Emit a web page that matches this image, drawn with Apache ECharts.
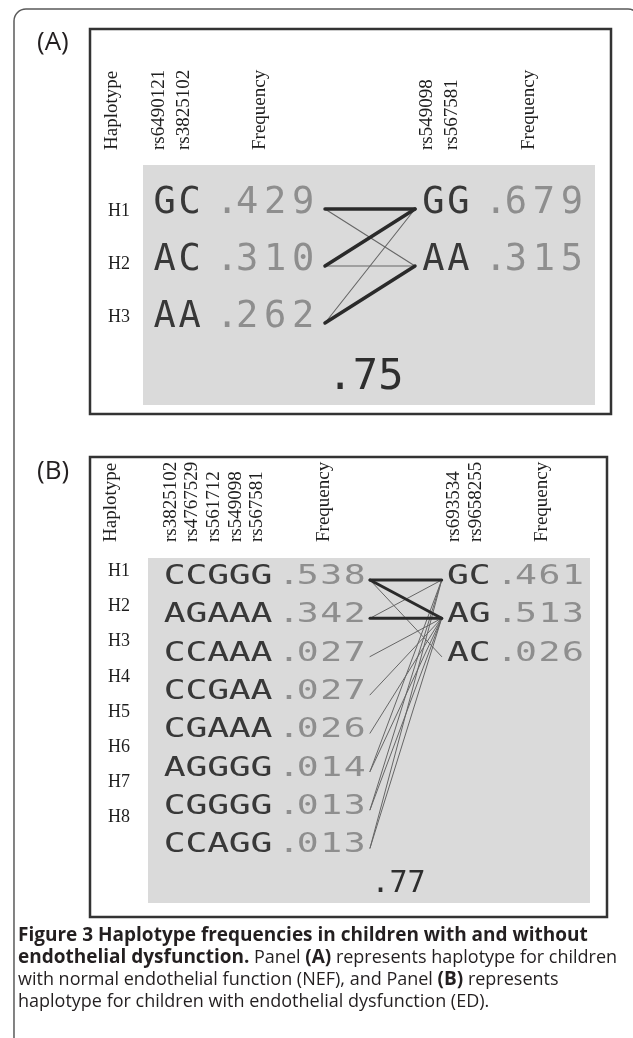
<!DOCTYPE html>
<html><head><meta charset="utf-8">
<script src="https://cdn.jsdelivr.net/npm/echarts@6.0.0/dist/echarts.min.js"></script>
<style>html,body{margin:0;padding:0;background:#fff}#c{width:633px;height:1038px}</style>
</head><body><div id="c"></div>
<script>
// ---------------- DATA ----------------
// Panel A (NEF)
const A_ids = ['H1', 'H2', 'H3'];
const A_leftMarkers = ['rs6490121', 'rs3825102'];
const A_leftHaps = ['GC', 'AC', 'AA'];
const A_leftFreqs = [0.429, 0.310, 0.262];
const A_rightMarkers = ['rs549098', 'rs567581'];
const A_rightHaps = ['GG', 'AA'];
const A_rightFreqs = [0.679, 0.315];
// [left haplotype index, right haplotype index, strong(1)/weak(0)]
const A_links = [[0, 0, 1], [0, 1, 0], [1, 0, 1], [1, 1, 0], [2, 1, 1], [2, 0, 0]];
const A_dprime = 0.75;

// Panel B (ED)
const B_ids = ['H1', 'H2', 'H3', 'H4', 'H5', 'H6', 'H7', 'H8'];
const B_leftMarkers = ['rs3825102', 'rs4767529', 'rs561712', 'rs549098', 'rs567581'];
const B_leftHaps = ['CCGGG', 'AGAAA', 'CCAAA', 'CCGAA', 'CGAAA', 'AGGGG', 'CGGGG', 'CCAGG'];
const B_leftFreqs = [0.538, 0.342, 0.027, 0.027, 0.026, 0.014, 0.013, 0.013];
const B_rightMarkers = ['rs693534', 'rs9658255'];
const B_rightHaps = ['GC', 'AG', 'AC'];
const B_rightFreqs = [0.461, 0.513, 0.026];
const B_links = [[0, 0, 1], [0, 1, 1], [0, 2, 0], [1, 1, 1], [1, 0, 0], [2, 1, 0], [3, 1, 0], [4, 1, 0],
                 [5, 1, 0], [5, 0, 0], [6, 1, 0], [6, 0, 0], [7, 1, 0], [7, 0, 0]];
const B_dprime = 0.77;

const headerTitles = { hap: 'Haplotype', freq: 'Frequency' };
const panelLabels = ['(A)', '(B)'];
const captionLines = [
  [['b', 'Figure 3 Haplotype frequencies in children with and without']],
  [['b', 'endothelial dysfunction.'], ['r', ' Panel '], ['b', '(A)'], ['r', ' represents haplotype for children']],
  [['r', 'with normal endothelial function (NEF), and Panel '], ['b', '(B)'], ['r', ' represents']],
  [['r', 'haplotype for children with endothelial dysfunction (ED).']]
];

// ---------------- LAYOUT / STYLE ----------------
const MONO = '"DejaVu Sans Mono", monospace';
const SERIF = '"Liberation Serif", "Times New Roman", serif';
const SANS = '"Open Sans", "Noto Sans", sans-serif';
const GRAY = '#dadada';
const INK = '#1e1e1e';
const HAPC = '#383838';
const FREQC = '#8e8e8e';

const LA = {
  gray: [143, 165, 452, 240], rowY0: 203, rowStep: 57, linkDy: 6,
  font: 37, scaleX: 1.0, hapStep: 25, gapDot: 37.5, dotDigit: 20, digitStep: 28,
  leftHapX: 164.7, rightHapX: 433.5, linkL: 325, linkR: 415, thick: 3.5, thin: 1.1,
  dX: 365.5, dY: 378, dFont: 42, dScaleX: 1,
  hdrBottom: 150, hdrHapX: 112, markerOff: -6, freqHdrOff: -15,
  hLabelRight: 130, hLabelY0: 211, hLabelStep: 53,
  box: [90, 29, 521, 385], labelX: 37, labelY: 43
};
const LB = {
  gray: [148, 558, 442, 345], rowY0: 577, rowStep: 38.3, linkDy: 3,
  font: 27, scaleX: 1.35, hapStep: 21.7, gapDot: 27.5, dotDigit: 18.7, digitStep: 23.5,
  leftHapX: 174.7, rightHapX: 458, linkL: 370, linkR: 441.7, thick: 3, thin: 1,
  dX: 398.5, dY: 884, dFont: 30, dScaleX: 1,
  hdrBottom: 542, hdrHapX: 111, markerOff: -4, freqHdrOff: -7,
  hLabelRight: 130, hLabelY0: 571.5, hLabelStep: 35.1,
  box: [90, 457, 517, 460], labelX: 37, labelY: 472
};

// ---------------- BUILD ----------------
function fmtFreq(v) { return '.' + String(Math.round(v * 1000)).padStart(3, '0'); }
function fmtD(v) { return '.' + String(Math.round(v * 100)).padStart(2, '0'); }

const grids = [], xAxes = [], yAxes = [], series = [];

function charEl(ch, p, size, sx, fill) {
  return { type: 'text', x: p[0], y: p[1], scaleX: sx,
    style: { text: ch, fontFamily: MONO, fontSize: size, fill: fill, align: 'center', verticalAlign: 'middle' } };
}

function buildPanel(D, L) {
  const g = grids.length;
  const [gx, gy, gw, gh] = L.gray;
  const toRow = y => (y - L.rowY0) / L.rowStep;
  grids.push({ left: gx, top: gy, width: gw, height: gh, show: true, backgroundColor: GRAY, borderWidth: 0 });
  xAxes.push({ gridIndex: g, type: 'value', min: gx, max: gx + gw, show: false });
  yAxes.push({ gridIndex: g, type: 'value', min: toRow(gy), max: toRow(gy + gh), inverse: true, show: false });

  const h = grids.length;
  grids.push({ left: L.hLabelRight, top: L.hLabelY0 - L.hLabelStep / 2, width: 10, height: L.hLabelStep * D.ids.length });
  xAxes.push({ gridIndex: h, type: 'value', min: 0, max: 1, show: false });
  yAxes.push({ gridIndex: h, type: 'category', data: D.ids, inverse: true,
    axisLine: { show: false }, axisTick: { show: false }, splitLine: { show: false },
    axisLabel: { margin: 0, fontFamily: SERIF, fontSize: 18, color: INK } });
  series.push({ type: 'scatter', xAxisIndex: h, yAxisIndex: h, data: [], silent: true });

  const hapX = (x0, k) => x0 + k * L.hapStep;
  const dotX = (x0, len) => x0 + (len - 1) * L.hapStep + L.gapDot;

  function side(haps, freqs, x0) {
    series.push({ type: 'custom', xAxisIndex: g, yAxisIndex: g, silent: true,
      data: haps.map((_, i) => [x0, i]),
      renderItem(params, api) {
        const i = params.dataIndex, row = api.value(1);
        const hap = haps[i], fr = fmtFreq(freqs[i]);
        const ch = [];
        for (let k = 0; k < hap.length; k++)
          ch.push(charEl(hap[k], api.coord([hapX(x0, k), row]), L.font, L.scaleX, HAPC));
        const dx = dotX(x0, hap.length);
        ch.push(charEl('.', api.coord([dx, row]), L.font, L.scaleX, FREQC));
        for (let k = 1; k < fr.length; k++)
          ch.push(charEl(fr[k], api.coord([dx + L.dotDigit + (k - 1) * L.digitStep, row]), L.font, L.scaleX, FREQC));
        return { type: 'group', children: ch };
      } });
  }
  side(D.leftHaps, D.leftFreqs, L.leftHapX);
  side(D.rightHaps, D.rightFreqs, L.rightHapX);

  // links: weak first, strong on top
  const links = D.links.slice().sort((a, b) => a[2] - b[2]);
  const dyRow = L.linkDy / L.rowStep;
  series.push({ type: 'custom', xAxisIndex: g, yAxisIndex: g, silent: true,
    data: links.map(l => [L.linkL, l[0], L.linkR, l[1], l[2]]),
    renderItem(params, api) {
      const a = api.coord([api.value(0), api.value(1) + dyRow]);
      const b = api.coord([api.value(2), api.value(3) + dyRow]);
      const strong = api.value(4) === 1;
      return { type: 'line', shape: { x1: a[0], y1: a[1], x2: b[0], y2: b[1] },
        style: { stroke: strong ? '#2a2a2a' : '#666666', lineWidth: strong ? L.thick : L.thin, lineCap: 'round' } };
    } });

  // multiallelic D'
  series.push({ type: 'custom', xAxisIndex: g, yAxisIndex: g, silent: true,
    data: [[L.dX, toRow(L.dY)]],
    renderItem(params, api) {
      const p = api.coord([api.value(0), api.value(1)]);
      return { type: 'text', x: p[0], y: p[1], scaleX: L.dScaleX,
        style: { text: fmtD(D.dprime), fontFamily: MONO, fontSize: L.dFont, fill: '#2e2e2e', align: 'center', verticalAlign: 'middle' } };
    } });

  // column headers (vertical)
  const hdr = [[L.hdrHapX, headerTitles.hap]];
  D.leftMarkers.forEach((m, k) => hdr.push([hapX(L.leftHapX, k) + L.markerOff, m]));
  hdr.push([dotX(L.leftHapX, D.leftHaps[0].length) + L.dotDigit + L.digitStep + L.freqHdrOff, headerTitles.freq]);
  D.rightMarkers.forEach((m, k) => hdr.push([hapX(L.rightHapX, k) + L.markerOff, m]));
  hdr.push([dotX(L.rightHapX, D.rightHaps[0].length) + L.dotDigit + L.digitStep + L.freqHdrOff, headerTitles.freq]);
  series.push({ type: 'custom', xAxisIndex: g, yAxisIndex: g, silent: true,
    data: hdr.map(hh => [hh[0], toRow(L.hdrBottom)]),
    renderItem(params, api) {
      const p = api.coord([api.value(0), api.value(1)]);
      return { type: 'text', x: p[0], y: p[1], rotation: Math.PI / 2,
        style: { text: hdr[params.dataIndex][1], fontFamily: SERIF, fontSize: 19, fill: INK, align: 'left', verticalAlign: 'middle' } };
    } });
}

buildPanel({ ids: A_ids, leftMarkers: A_leftMarkers, leftHaps: A_leftHaps, leftFreqs: A_leftFreqs,
  rightMarkers: A_rightMarkers, rightHaps: A_rightHaps, rightFreqs: A_rightFreqs, links: A_links, dprime: A_dprime }, LA);
buildPanel({ ids: B_ids, leftMarkers: B_leftMarkers, leftHaps: B_leftHaps, leftFreqs: B_leftFreqs,
  rightMarkers: B_rightMarkers, rightHaps: B_rightHaps, rightFreqs: B_rightFreqs, links: B_links, dprime: B_dprime }, LB);

const captionText = captionLines.map(l => l.map(([s, t]) => '{' + s + '|' + t + '}').join('')).join('\n');

const graphics = [
  { type: 'rect', shape: { x: 14, y: 9, width: 626, height: 1060, r: 12 }, style: { fill: 'none', stroke: '#5a5a5a', lineWidth: 1.5 }, silent: true },
  { type: 'rect', shape: { x: LA.box[0], y: LA.box[1], width: LA.box[2], height: LA.box[3] }, style: { fill: 'none', stroke: '#333', lineWidth: 2.5 }, silent: true },
  { type: 'rect', shape: { x: LB.box[0], y: LB.box[1], width: LB.box[2], height: LB.box[3] }, style: { fill: 'none', stroke: '#333', lineWidth: 2.5 }, silent: true },
  { type: 'text', x: LA.labelX, y: LA.labelY, style: { text: panelLabels[0], fontFamily: SANS, fontSize: 26, fill: '#231f20', verticalAlign: 'middle' } },
  { type: 'text', x: LB.labelX, y: LB.labelY, style: { text: panelLabels[1], fontFamily: SANS, fontSize: 26, fill: '#231f20', verticalAlign: 'middle' } },
  { type: 'text', x: 18, y: 925, style: { text: captionText, verticalAlign: 'top', fontFamily: SANS, fontSize: 18, fill: '#231f20',
      rich: {
        b: { fontFamily: SANS, fontSize: 19, fontWeight: 'bold', fill: '#231f20', lineHeight: 22 },
        r: { fontFamily: SANS, fontSize: 18, fontWeight: 'normal', fill: '#231f20', lineHeight: 22 }
      } } }
];

const chart = echarts.init(document.getElementById('c'));
chart.setOption({
  animation: false,
  backgroundColor: '#ffffff',
  grid: grids, xAxis: xAxes, yAxis: yAxes, series: series,
  graphic: { elements: graphics }
});
</script></body></html>
